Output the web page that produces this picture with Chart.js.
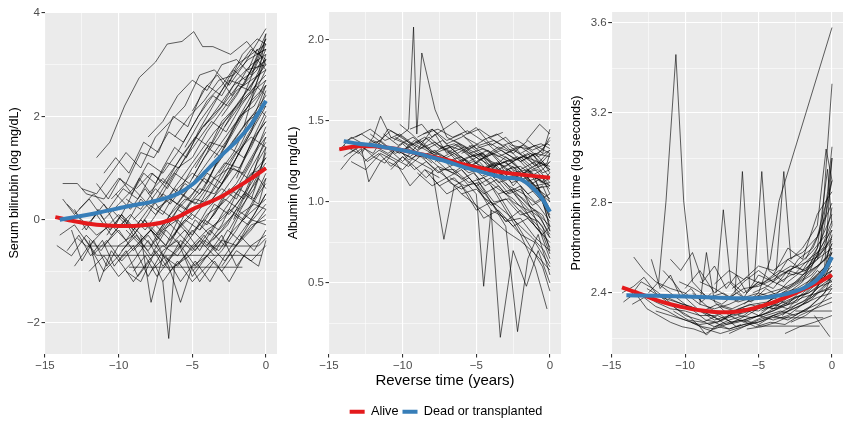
<!DOCTYPE html>
<html>
<head>
<meta charset="utf-8">
<script src="https://cdn.jsdelivr.net/npm/chart.js@4.4.1/dist/chart.umd.min.js"></script>
<style>
  html, body { margin: 0; padding: 0; background: #fff; overflow: hidden; }
  #wrap { position: relative; width: 843px; height: 421px; overflow: hidden; }
  canvas { position: absolute; top: 0; }
</style>
</head>
<body>
<div id="wrap">
  <canvas id="bili" width="283" height="421" style="left:0px;width:283px;height:421px"></canvas>
  <canvas id="alb" width="332" height="428" style="left:280px;width:332px;height:428px"></canvas>
  <canvas id="pro" width="278" height="421" style="left:565px;width:278px;height:421px"></canvas>
</div>
<script>
// axis ticks
const timeTicks = [-15, -10, -5, 0];
const timeMinor = [-12.5, -7.5, -2.5];
const biliTicks = [-2, 0, 2, 4];
const biliMinor = [-1, 1, 3];
const albTicks = [0.5, 1.0, 1.5, 2.0];
const albMinor = [0.25, 0.75, 1.25, 1.75];
const proTicks = [2.4, 2.8, 3.2, 3.6];
const proMinor = [2.2, 2.6, 3.0, 3.4];

// smoothed group means [time, value]
const biliAlive = [[-14.3,0.05],[-13,-0.03],[-12,-0.08],[-11,-0.11],[-10,-0.12],[-9,-0.12],[-8,-0.1],[-7,-0.05],[-6,0.05],[-5,0.2],[-4,0.32],[-3,0.45],[-2,0.62],[-1,0.8],[0,1.0]];
const biliDead = [[-14,0.0],[-13,0.05],[-12,0.1],[-11,0.16],[-10,0.22],[-9,0.28],[-8,0.33],[-7,0.4],[-6,0.5],[-5,0.68],[-4,0.96],[-3,1.25],[-2,1.52],[-1,1.85],[0,2.3]];
const albAlive = [[-14.3,1.325],[-13,1.345],[-12,1.345],[-11,1.335],[-10,1.32],[-9,1.3],[-8,1.28],[-7,1.26],[-6,1.235],[-5,1.215],[-4,1.195],[-3,1.18],[-2,1.17],[-1,1.16],[0,1.15]];
const albDead = [[-14,1.375],[-13,1.36],[-12,1.35],[-11,1.335],[-10,1.32],[-9,1.3],[-8,1.275],[-7,1.25],[-6,1.22],[-5,1.195],[-4,1.17],[-3,1.15],[-2,1.14],[-1.2,1.09],[-0.6,1.03],[0,0.94]];
const proAlive = [[-14.3,2.425],[-13,2.395],[-12,2.37],[-11,2.35],[-10,2.335],[-9,2.323],[-8,2.316],[-7,2.315],[-6,2.322],[-5,2.338],[-4,2.358],[-3,2.385],[-2,2.415],[-1,2.445],[0,2.48]];
const proDead = [[-14,2.39],[-12,2.388],[-10,2.385],[-8,2.38],[-6,2.377],[-5,2.378],[-4,2.385],[-3,2.398],[-2,2.42],[-1,2.46],[-0.5,2.5],[0,2.56]];

// individual patient trajectories [time, value]
const biliPatients = [
  [[-11.5,1.2],[-10.6,1.5],[-9.6,2.2],[-8.6,2.75],[-7.5,3.05],[-6.7,3.4],[-5.7,3.45],[-4.9,3.64],[-4.3,3.35],[-3.6,3.35],[-2.4,3.2],[-1.3,3.45],[-0.6,3.2],[0,3.3]],
  [[-12.5,0.6],[-11.5,0.5],[-10.5,0.9],[-9.5,1.3],[-8.5,1.0],[-7.5,1.6],[-6.5,1.9],[-5.5,2.2],[-4.5,2.8],[-3.5,2.9],[-2.5,2.6],[-1.5,3.0],[0,3.7]],
  [[-13.8,0.7],[-12.8,0.7],[-12.2,0.5],[-11,0.4],[-10,0.8],[-9,0.6],[-8,1.1],[-7,0.9],[-6,1.3],[-5,1.8],[-4,2.3],[-3,2.6],[-2,3.0],[-1,3.2],[0,3.4]],
  [[-14,-0.3],[-13,-0.1],[-12,-0.5],[-11,-0.2],[-10,0.1],[-9,-0.2],[-8,0.2],[-7,0.5],[-6,0.3],[-5,0.7],[-4,1.1],[-3,1.5],[-2,1.9],[-1,2.4],[0,3.1]],
  [[-13.5,0.3],[-12.5,0],[-11.5,-0.3],[-10.5,-0.1],[-9.5,-0.4],[-8.5,0],[-7.5,-0.3],[-6.5,0.1],[-5.5,0.4],[-4.5,0.3],[-3.5,0.8],[-2.5,1.0],[-1.5,0.9],[-0.5,1.4],[0,1.6]],
  [[-12.3,-0.36],[-11.5,-0.69],[-8,-0.69],[-4,-0.69],[-0.3,-0.69]],
  [[-9.3,-0.92],[-6,-0.92],[-3,-0.92],[-1.6,-0.92]],
  [[-12.8,-0.36],[-12.2,-0.51],[-9,-0.51],[-6,-0.51],[-3.5,-0.51],[-0.5,-0.51],[0,-0.36]],
  [[-9.5,-0.2],[-8.5,-0.5],[-7.5,-0.9],[-7,-1.2],[-6.6,-2.3],[-6.2,-0.9],[-5.2,-0.7],[-4.2,-0.4],[-3.2,-0.6],[-2.2,-0.2],[-1.2,0.1],[0,0.4]],
  [[-8.5,-0.3],[-7.8,-1.6],[-7,-0.7],[-6,-0.9],[-5,-0.5],[-4,-0.2],[-3,0.0],[-2,0.3],[-1,0.7],[0,1.2]],
  [[-7.5,-0.4],[-6.6,-0.9],[-5.8,-1.6],[-5,-0.9],[-4,-0.7],[-3,-0.4],[-2,-0.5],[-1,-0.2],[0,0.2]],
  [[-12,-0.4],[-11.3,-1.2],[-10.5,-0.6],[-9.7,-0.9],[-9,-1.2],[-8,-0.8],[-7,-0.5],[-6,-0.7],[-5,-0.3],[-4,0.1],[-3,0.3],[-2,0.6],[-1,1.1],[0,1.8]],
  [[-13.2,-0.2],[-12.5,-0.8],[-11.7,-0.4],[-10.8,-0.9],[-10,-0.5],[-9,-0.3],[-8,0.1],[-7,0.6],[-6,1.0],[-5,1.2],[-4,1.7],[-3,2.1],[-2,2.5],[-1,2.7],[0,2.9]],
  [[-10.5,0.4],[-9.5,0.7],[-8.5,1.3],[-7.6,1.2],[-6.6,1.7],[-5.6,1.5],[-4.6,2.0],[-3.6,2.4],[-2.6,2.2],[-1.6,2.6],[-0.6,2.9],[0,3.3]],
  [[-11,0.9],[-10.2,1.2],[-9.3,0.9],[-8.3,1.5],[-7.3,1.3],[-6.3,2.0],[-5.3,1.8],[-4.3,2.5],[-3.3,2.8],[-2.3,2.4],[-1.3,2.9],[0,3.0]],
  [[-9,0.0],[-8,0.3],[-7,0.1],[-6,0.6],[-5,0.9],[-4,0.7],[-3,1.3],[-2,1.8],[-1,2.3],[0,2.6]],
  [[-8,0.5],[-7,0.8],[-6,0.5],[-5,1.0],[-4,1.4],[-3,1.2],[-2,1.6],[-1,2.0],[0,2.2]],
  [[-7,-0.2],[-6,0.0],[-5,-0.3],[-4,0.2],[-3,0.5],[-2,0.9],[-1,1.4],[0,2.0]],
  [[-6,0.2],[-5,0.5],[-4,0.9],[-3,0.7],[-2,1.2],[-1,1.7],[0,2.5]],
  [[-5,0.8],[-4,1.3],[-3,1.9],[-2,2.2],[-1,2.5],[0,2.8]],
  [[-4,0.3],[-3,0.6],[-2,0.4],[-1,1.0],[0,1.5]],
  [[-3.5,1.2],[-2.5,1.6],[-1.5,2.1],[-0.5,2.4],[0,2.7]],
  [[-6.5,-0.5],[-5.5,-0.2],[-4.5,-0.6],[-3.5,-0.1],[-2.5,0.2],[-1.5,0.0],[-0.5,0.5],[0,0.7]],
  [[-12.7,0.2],[-11.7,0.5],[-10.7,0.2],[-9.7,0.6],[-8.7,0.4],[-7.7,0.9],[-6.7,0.6],[-5.7,1.1],[-4.7,1.5],[-3.7,1.9],[-2.7,1.7],[-1.7,2.2],[-0.7,2.6],[0,2.4]],
  [[-14.2,-0.5],[-13.2,-0.7],[-12.2,-0.3],[-11.2,-0.6],[-10.2,-0.2],[-9.2,0.1],[-8.2,-0.2],[-7.2,0.2],[-6.2,0.0],[-5.2,-0.3],[-4.2,0.0],[-3.2,-0.2],[-2.2,0.1],[-1.2,-0.1],[0,0.3]],
  [[-10,-0.8],[-9,-0.5],[-8,-1.1],[-7,-0.6],[-6,-0.4],[-5,-1.1],[-4,-0.7],[-3,-1.0],[-2,-0.6],[-1,-0.8],[0,-0.5]],
  [[-5.5,-0.7],[-4.5,-1.2],[-3.5,-0.8],[-2.5,-1.2],[-1.5,-0.7],[-0.5,-0.9],[0,-0.4]],
  [[-2.5,-0.2],[-1.5,0.3],[-0.5,0.9],[0,1.1]],
  [[-2,0.8],[-1,1.5],[0,2.1]],
  [[-1.5,1.8],[-0.8,2.5],[0,3.2]],
  [[-9.5,0.4],[-8.5,0.2],[-7.5,0.6],[-6.5,0.3],[-5.5,0.7],[-4.5,0.5],[-3.5,1.0],[-2.5,1.4],[-1.5,1.2],[-0.5,1.7],[0,1.9]],
  [[-8,1.6],[-7,1.9],[-6,2.4],[-5,2.7],[-4,2.5],[-3,3.0],[-2,3.1],[-1,2.8],[0,3.5]],
  [[-13,-0.9],[-12,-0.5],[-11,-1.0],[-10,-0.7],[-9,-0.3],[-8,-0.6],[-7,-0.2],[-6,0.2],[-5,0.0],[-4,0.4],[-3,0.8],[-2,1.3],[-1,1.6],[0,1.4]],
  [[-11.8,0.0],[-11,0.3],[-10.2,-0.1],[-9.4,0.3],[-8.6,0.8],[-7.8,0.5],[-7,1.0],[-6.2,1.4],[-5.4,1.2],[-4.6,1.7],[-3.8,2.1],[-3,2.5],[-2.2,2.9],[-1.4,2.7],[-0.6,3.1],[0,2.9]],
  [[-4.5,-0.2],[-3.5,0.1],[-2.5,0.6],[-1.5,0.4],[-0.5,0.8],[0,0.6]],
  [[-7.8,-1.0],[-6.8,-0.7],[-5.8,-1.2],[-4.8,-0.8],[-3.8,-1.2],[-2.8,-0.7],[-1.8,-0.3],[-0.8,-0.6],[0,-0.2]],
  [[-3,-0.9],[-2,-0.5],[-1,-0.1],[0,0.0]],
  [[-12.5,-0.2],[-11.5,0.1],[-10.5,-0.3],[-9.5,0.0],[-8.5,-0.4],[-7.5,-0.1],[-6.5,-0.4],[-5.5,0.0],[-4.5,-0.2],[-3.5,0.3],[-2.5,0.1],[-1.5,0.5],[-0.5,0.3],[0,0.8]],
  [[-11,-0.5],[-10,-0.2],[-9,-0.6],[-8,-0.3],[-7,-0.7],[-6,-0.2],[-5,0.1],[-4,-0.1],[-3,0.4],[-2,0.7],[-1,1.2],[0,1.7]],
  [[-10.5,0.2],[-9.5,-0.1],[-8.5,0.4],[-7.5,0.1],[-6.5,0.5],[-5.5,0.9],[-4.5,1.3],[-3.5,1.7],[-2.5,2.0],[-1.5,2.4],[-0.5,2.8],[0,3.6]],
  [[-9.8,-0.6],[-8.8,-0.3],[-7.8,-0.7],[-6.8,-0.2],[-5.8,-0.5],[-4.8,0.0],[-3.8,-0.3],[-2.8,0.2],[-1.8,0.6],[-0.8,0.4],[0,0.9]],
  [[-8.8,0.6],[-7.8,0.9],[-6.8,0.7],[-5.8,1.2],[-4.8,1.6],[-3.8,1.4],[-2.8,1.9],[-1.8,2.3],[-0.8,2.7],[0,3.0]],
  [[-7.5,0.2],[-6.5,0.4],[-5.5,0.2],[-4.5,0.6],[-3.5,0.5],[-2.5,0.9],[-1.5,1.5],[-0.5,2.0],[0,2.3]],
  [[-6.8,-0.8],[-5.8,-0.5],[-4.8,-0.9],[-3.8,-0.5],[-2.8,-0.8],[-1.8,-0.4],[-0.8,-0.1],[0,0.1]],
  [[-5.8,0.5],[-4.8,0.3],[-3.8,0.7],[-2.8,1.1],[-1.8,1.0],[-0.8,1.6],[0,1.9]],
  [[-4.8,1.0],[-3.8,1.5],[-2.8,1.4],[-1.8,2.0],[-0.8,2.2],[0,2.6]],
  [[-3.8,0.0],[-2.8,0.4],[-1.8,0.2],[-0.8,0.6],[0,1.3]],
  [[-13.8,0.4],[-13,0.1],[-12,0.4],[-11,0.0],[-10,0.3],[-9,0.6],[-8,0.3],[-7,0.7],[-6,1.1],[-5,1.5],[-4,1.9],[-3,2.2],[-2,2.7],[-1,3.0],[0,3.2]],
  [[-12,-1.0],[-11,-0.7],[-10,-1.1],[-9,-0.8],[-8,-0.4],[-7,-0.9],[-6,-0.6],[-5,-0.2],[-4,-0.5],[-3,-0.2],[-2,0.2],[-1,0.0],[0,0.5]],
  [[-11.5,0.7],[-10.7,0.4],[-9.9,0.8],[-9.1,0.5],[-8.3,0.9],[-7.5,0.7],[-6.7,1.1],[-5.9,1.0],[-5.1,1.4],[-4.3,1.8],[-3.5,2.0],[-2.7,2.3],[-1.9,2.6],[-1.1,2.5],[-0.3,3.0],[0,3.1]],
  [[-9,-1.0],[-8.2,-0.7],[-7.4,-1.1],[-6.6,-0.8],[-5.8,-0.4],[-5,-0.6],[-4.2,-0.3],[-3.4,-0.6],[-2.6,-0.2],[-1.8,-0.4],[-1,0.0],[0,-0.1]],
  [[-2.8,1.8],[-1.8,2.2],[-0.8,2.9],[0,3.4]],
  [[-3.2,0.9],[-2.2,1.3],[-1.2,1.9],[0,2.4]],
  [[-1.8,-0.3],[-0.8,0.1],[0,0.5]],
  [[-8.3,0.0],[-7.3,-0.3],[-6.3,0.2],[-5.3,0.6],[-4.3,0.9],[-3.3,1.1],[-2.3,1.5],[-1.3,1.9],[-0.3,2.1],[0,2.0]],
  [[-6.2,1.6],[-5.2,2.0],[-4.2,2.3],[-3.2,2.7],[-2.2,2.8],[-1.2,3.1],[0,3.3]],
  [[-10.8,-0.3],[-9.8,0.1],[-8.8,-0.2],[-7.8,-0.5],[-6.8,0.0],[-5.8,-0.3],[-4.8,-0.6],[-3.8,-0.2],[-2.8,-0.5],[-1.8,0.1],[-0.8,0.3],[0,0.2]],
  [[-13.5,-0.6],[-12.7,-0.3],[-11.9,-0.7],[-11.1,-0.4],[-10.3,-0.9],[-9.5,-0.6],[-8.7,-1.1],[-7.9,-0.8]],
  [[-5,-1.0],[-4,-0.7],[-3,-0.3],[-2,-0.9],[-1,-0.5],[0,-0.3]],
  [[-3,2.0],[-2,2.4],[-1,2.9],[0,3.6]],
  [[-4.2,1.8],[-3.2,2.2],[-2.2,2.6],[-1.2,2.8],[0,3.1]],
  [[-5.5,1.4],[-4.5,1.9],[-3.5,2.3],[-2.5,2.7],[-1.5,2.6],[-0.5,3.2],[0,3.5]],
  [[-2.2,0.0],[-1.2,0.6],[-0.4,1.3],[0,1.6]],
  [[-3.6,-0.4],[-2.6,-0.1],[-1.6,0.4],[-0.6,1.1],[0,1.4]],
  [[-6.2,-0.3],[-5.2,0.3],[-4.2,0.6],[-3.2,1.2],[-2.2,1.8],[-1.2,2.2],[0,2.9]],
  [[-7.2,0.4],[-6.2,0.9],[-5.2,0.7],[-4.2,1.2],[-3.2,1.6],[-2.2,2.1],[-1.2,2.4],[0,2.7]],
  [[-8.8,-0.5],[-7.8,-0.2],[-6.8,-0.5],[-5.8,0.1],[-4.8,0.4],[-3.8,0.3],[-2.8,0.8],[-1.8,1.3],[-0.8,1.8],[0,2.2]],
  [[-10.2,0.5],[-9.2,0.2],[-8.2,0.6],[-7.2,0.2],[-6.2,0.6],[-5.2,0.4],[-4.2,0.8],[-3.2,0.6],[-2.2,1.0],[-1.2,0.8],[0,1.2]],
  [[-11.8,-0.7],[-10.8,-0.4],[-9.8,-0.8],[-8.8,-0.5],[-7.8,-0.2],[-6.8,-0.5],[-5.8,-0.1],[-4.8,0.2],[-3.8,0.5],[-2.8,1.0],[-1.8,1.4],[-0.8,2.0],[0,2.6]],
  [[-13,0.2],[-12.2,-0.2],[-11.4,0.2],[-10.6,-0.2],[-9.8,0.1],[-9,-0.3],[-8.2,0.0],[-7.4,-0.4],[-6.6,-0.1],[-5.8,0.3],[-5,0.1]],
  [[-7,-1.2],[-6,-0.8],[-5,-1.2],[-4,-0.9],[-3,-0.6],[-2,-0.2],[-1,0.3],[0,0.8]],
  [[-9.5,-1.0],[-8.5,-1.2],[-7.5,-0.6],[-6.5,-1.0],[-5.5,-0.7],[-4.5,-0.4],[-3.5,-0.7]],
  [[-4,-0.5],[-3,-0.1],[-2,0.5],[-1,0.9],[0,1.0]],
  [[-1,0.4],[-0.5,0.8],[0,1.4]],
  [[-1.2,2.9],[-0.6,3.3],[0,3.0]],
  [[-2.6,2.6],[-1.6,3.2],[-0.6,3.5],[0,3.4]],
  [[-5,2.1],[-4,2.6],[-3,2.4],[-2,2.9],[-1,3.3],[0,3.1]]
];

const albPatients = [
  [[-10.6,1.38],[-9.6,1.45],[-9.26,2.08],[-9.04,1.42],[-8.7,1.92],[-7.8,1.57],[-7,1.4],[-6,1.35],[-5,1.3],[-4,1.25],[-3,1.22],[-2,1.28],[-1,1.2],[0,1.1]],
  [[-14.3,1.32],[-13.5,1.4],[-12.5,1.35],[-11.5,1.38],[-10.5,1.3],[-9.5,1.34],[-8.5,1.27],[-7.5,1.3],[-6.5,1.24],[-5.5,1.28],[-4.5,1.2],[-3.5,1.24],[-2.5,1.18],[-1.5,1.2],[-0.5,1.12],[0,1.15]],
  [[-14.2,1.2],[-13.5,1.28],[-12.8,1.33],[-12.3,1.125],[-11.5,1.25],[-10.5,1.32],[-9.5,1.28],[-8.5,1.35],[-7.5,1.25],[-6.5,1.3],[-5.5,1.22],[-4.5,1.27],[-3.5,1.16],[-2.5,1.22],[-1.5,1.1],[-0.5,1.0],[0,0.9]],
  [[-13.8,1.38],[-12.8,1.42],[-11.8,1.36],[-10.8,1.44],[-9.8,1.38],[-8.8,1.33],[-7.8,1.37],[-6.8,1.3],[-5.8,1.34],[-4.8,1.26],[-3.8,1.3],[-2.8,1.25],[-1.8,1.28],[-0.8,1.22],[0,1.3]],
  [[-13,1.35],[-12,1.3],[-11,1.45],[-10,1.4],[-9,1.32],[-8,1.45],[-7,1.38],[-6,1.42],[-5,1.33],[-4,1.36],[-3,1.3],[-2,1.34],[-1,1.28],[0,1.38]],
  [[-12.8,1.3],[-12,1.4],[-11.5,1.53],[-10.8,1.4],[-9.8,1.36],[-8.8,1.28],[-7.8,1.32],[-6.8,1.22],[-5.8,1.26],[-4.8,1.14],[-3.8,1.18],[-2.8,1.08],[-1.8,1.02],[-0.8,0.92],[0,0.8]],
  [[-10,1.3],[-9,1.25],[-8,1.2],[-7.2,0.77],[-6.5,1.1],[-5.5,1.15],[-4.5,1.05],[-3.5,1.1],[-2.5,1.0],[-1.5,0.95],[-0.5,0.85],[0,0.7]],
  [[-8,1.28],[-7,1.2],[-6,1.15],[-5,1.05],[-4.5,0.48],[-4,0.95],[-3,0.9],[-2,0.8],[-1,0.75],[0,0.6]],
  [[-6,1.2],[-5,1.1],[-4,0.95],[-3.37,0.165],[-2.5,0.7],[-1.6,0.48],[-0.8,0.7],[0,0.5]],
  [[-5,1.15],[-4,1.0],[-3,0.85],[-2.2,0.2],[-1.5,0.65],[-0.8,0.8],[0,0.55]],
  [[-4,1.1],[-3,0.95],[-2,0.8],[-1,0.6],[-0.2,0.34]],
  [[-7.5,1.35],[-6.5,1.3],[-5.5,1.25],[-4.5,1.3],[-3.5,1.2],[-2.5,1.25],[-1.5,1.15],[-0.5,1.2],[0,1.25]],
  [[-9,1.4],[-8,1.45],[-7,1.36],[-6,1.4],[-5,1.46],[-4,1.35],[-3,1.4],[-2,1.3],[-1,1.35],[0,1.3]],
  [[-11,1.25],[-10,1.2],[-9,1.3],[-8,1.22],[-7,1.15],[-6,1.2],[-5,1.1],[-4,1.15],[-3,1.05],[-2,1.1],[-1,1.0],[0,1.05]],
  [[-6.5,1.25],[-5.5,1.18],[-4.5,1.22],[-3.5,1.12],[-2.5,1.15],[-1.5,1.05],[-0.5,1.1],[0,1.0]],
  [[-3,1.3],[-2,1.25],[-1,1.3],[0,1.2]],
  [[-2.5,1.2],[-1.5,1.15],[-0.5,1.05],[0,0.95]],
  [[-5.5,1.35],[-4.5,1.28],[-3.5,1.34],[-2.5,1.3],[-1.5,1.38],[-0.5,1.3],[0,1.45]],
  [[-4.5,1.2],[-3.5,1.25],[-2.5,1.1],[-1.5,1.2],[-0.5,1.25],[0,1.18]],
  [[-8.5,1.2],[-7.5,1.1],[-6.5,1.15],[-5.5,1.05],[-4.5,0.9],[-3.5,0.95],[-2.5,0.85],[-1.5,0.9],[-0.5,0.8],[0,0.85]],
  [[-14,1.28],[-13.2,1.33],[-12.4,1.25],[-11.6,1.3],[-10.8,1.22],[-10,1.28],[-9.2,1.2],[-8.4,1.25],[-7.6,1.18],[-6.8,1.22],[-6,1.14],[-5.2,1.18],[-4.4,1.1],[-3.6,1.14],[-2.8,1.05],[-2,1.08],[-1.2,0.98],[-0.4,1.02],[0,0.95]],
  [[-12,1.35],[-11,1.3],[-10,1.36],[-9,1.28],[-8,1.3],[-7,1.25],[-6,1.28],[-5,1.2],[-4,1.22],[-3,1.15],[-2,1.18],[-1,1.1],[0,1.12]],
  [[-1.5,1.2],[-0.8,1.1],[0,0.9]],
  [[-2,1.1],[-1,0.9],[0,0.65]],
  [[-3.5,1.05],[-2.5,0.9],[-1.5,0.75],[-0.5,0.6],[0,0.45]],
  [[-7,1.32],[-6,1.25],[-5,1.3],[-4,1.2],[-3,1.28],[-2,1.2],[-1,1.25],[0,1.22]],
  [[-10.5,1.4],[-9.5,1.35],[-8.5,1.4],[-7.5,1.33],[-6.5,1.36],[-5.5,1.3],[-4.5,1.33],[-3.5,1.28],[-2.5,1.32],[-1.5,1.27],[-0.5,1.32],[0,1.4]],
  [[-13.5,1.25],[-12.5,1.2],[-11.5,1.3],[-10.5,1.25],[-9.5,1.1],[-8.5,1.2],[-7.5,1.15]],
  [[-1.6,1.38],[-0.7,1.48],[0,1.42]],
  [[-5,1.12],[-4,1.0],[-3,0.88],[-2,0.95],[-1,0.85],[0,0.75]],
  [[-13.2,1.4],[-12.2,1.45],[-11.2,1.38],[-10.2,1.42],[-9.2,1.35],[-8.2,1.4],[-7.2,1.32],[-6.2,1.36],[-5.2,1.28],[-4.2,1.32],[-3.2,1.24],[-2.2,1.28],[-1.2,1.2],[-0.2,1.24],[0,1.3]],
  [[-12.6,1.25],[-11.6,1.32],[-10.6,1.27],[-9.6,1.22],[-8.6,1.3],[-7.6,1.22],[-6.6,1.18],[-5.6,1.24],[-4.6,1.16],[-3.6,1.2],[-2.6,1.12],[-1.6,1.15],[-0.6,1.05],[0,1.0]],
  [[-11.3,1.42],[-10.3,1.35],[-9.3,1.4],[-8.3,1.33],[-7.3,1.38],[-6.3,1.3],[-5.3,1.35],[-4.3,1.28],[-3.3,1.32],[-2.3,1.26],[-1.3,1.3],[-0.3,1.22],[0,1.25]],
  [[-9.8,1.33],[-8.8,1.38],[-7.8,1.3],[-6.8,1.34],[-5.8,1.26],[-4.8,1.2],[-3.8,1.24],[-2.8,1.15],[-1.8,1.18],[-0.8,1.08],[0,1.02]],
  [[-8.6,1.42],[-7.6,1.45],[-6.6,1.4],[-5.6,1.44],[-4.6,1.38],[-3.6,1.42],[-2.6,1.35],[-1.6,1.33],[-0.6,1.36],[0,1.33]],
  [[-7.8,1.25],[-6.8,1.3],[-5.8,1.2],[-4.8,1.25],[-3.8,1.15],[-2.8,1.2],[-1.8,1.12],[-0.8,1.15],[0,1.08]],
  [[-6.8,1.15],[-5.8,1.1],[-4.8,1.12],[-3.8,1.0],[-2.8,1.02],[-1.8,0.92],[-0.8,0.88],[0,0.78]],
  [[-5.8,1.4],[-4.8,1.35],[-3.8,1.38],[-2.8,1.32],[-1.8,1.35],[-0.8,1.28],[0,1.32]],
  [[-4.8,1.3],[-3.8,1.22],[-2.8,1.26],[-1.8,1.18],[-0.8,1.2],[0,1.12]],
  [[-3.8,1.18],[-2.8,1.1],[-1.8,1.05],[-0.8,0.98],[0,0.88]],
  [[-2.8,1.35],[-1.8,1.28],[-0.8,1.25],[0,1.2]],
  [[-14,1.35],[-13,1.3],[-12,1.38],[-11,1.33],[-10,1.25],[-9,1.35],[-8,1.3],[-7,1.35],[-6,1.32],[-5,1.25],[-4,1.3],[-3,1.2],[-2,1.22],[-1,1.15],[0,1.1]],
  [[-10.8,1.2],[-10,1.28],[-9.2,1.22],[-8.4,1.15],[-7.6,1.22],[-6.8,1.12],[-6,1.08],[-5.2,1.12],[-4.4,1.02],[-3.6,0.98],[-2.8,0.92],[-2,0.85],[-1.2,0.78],[-0.4,0.7],[0,0.62]],
  [[-6,1.3],[-5,1.35],[-4,1.3],[-3,1.35],[-2,1.25],[-1,1.3],[0,1.28]],
  [[-1.2,1.3],[-0.6,1.22],[0,1.15]],
  [[-9.5,1.45],[-8.7,1.48],[-8,1.4],[-7.2,1.45],[-6.4,1.5],[-5.6,1.42],[-4.8,1.45],[-4,1.4],[-3.2,1.43]],
  [[-8,1.15],[-7,1.05],[-6,1.1],[-5,0.95],[-4,1.0],[-3,0.88],[-2,0.9],[-1,0.78],[0,0.7]],
  [[-3.2,1.25],[-2.2,1.2],[-1.2,1.1],[-0.4,1.0],[0,0.92]],
  [[-4.5,1.15],[-3.5,1.08],[-2.5,1.02],[-1.5,0.92],[-0.5,0.82],[0,0.72]],
  [[-3,1.12],[-2,1.0],[-1,0.85],[-0.4,0.78],[0,0.68]],
  [[-2,1.25],[-1,1.15],[-0.5,1.0],[0,0.85]],
  [[-5.5,1.3],[-4.5,1.25],[-3.5,1.2],[-2.5,1.18],[-1.5,1.1],[-0.5,1.15],[0,1.05]],
  [[-6.5,1.38],[-5.5,1.33],[-4.5,1.38],[-3.5,1.3],[-2.5,1.25],[-1.5,1.3],[-0.5,1.18],[0,1.2]],
  [[-7.5,1.2],[-6.5,1.2],[-5.5,1.12],[-4.5,1.15],[-3.5,1.05],[-2.5,1.08],[-1.5,0.98],[-0.5,0.92],[0,0.82]],
  [[-9,1.18],[-8,1.1],[-7,1.15],[-6,1.05],[-5,1.08],[-4,0.98],[-3,1.02],[-2,0.92],[-1,0.95],[0,0.85]],
  [[-12.2,1.42],[-11.2,1.35],[-10.2,1.3],[-9.2,1.38],[-8.2,1.32],[-7.2,1.28],[-6.2,1.22],[-5.2,1.25],[-4.2,1.2],[-3.2,1.14],[-2.2,1.16],[-1.2,1.08],[0,1.1]],
  [[-13.6,1.3],[-12.8,1.35],[-12,1.28],[-11.2,1.24],[-10.4,1.34],[-9.6,1.26],[-8.8,1.3],[-8,1.24]],
  [[-10.2,1.48],[-9.4,1.42],[-8.6,1.35],[-7.8,1.42],[-7,1.3],[-6.2,1.35],[-5.4,1.28],[-4.6,1.3],[-3.8,1.22],[-3,1.25],[-2.2,1.16],[-1.4,1.2],[-0.6,1.12],[0,1.18]],
  [[-1.8,1.3],[-1,1.22],[-0.4,1.28],[0,1.32]],
  [[-4.2,1.4],[-3.2,1.35],[-2.2,1.38],[-1.2,1.32],[-0.2,1.36],[0,1.35]],
  [[-2.4,1.05],[-1.4,0.95],[-0.6,0.9],[0,0.78]],
  [[-0.8,1.08],[-0.3,0.95],[0,0.82]],
  [[-6,1.05],[-5,0.98],[-4,0.9],[-3,0.82],[-2,0.76],[-1,0.68],[0,0.58]]
];

const proPatients = [
  [[-12.5,2.4],[-11.8,2.45],[-11.3,2.81],[-10.63,3.46],[-10.1,2.81],[-9.5,2.45],[-8.5,2.38],[-7.5,2.35],[-6.5,2.4],[-5.5,2.36],[-4.5,2.42],[-3.5,2.38]],
  [[-6,2.35],[-5,2.4],[-4.2,2.55],[-3.6,2.81],[0,3.58]],
  [[-1.5,2.5],[-0.8,2.6],[0,3.33]],
  [[-6.6,2.4],[-6.1,2.94],[-5.6,2.42],[-4.6,2.45],[-3.6,2.5],[-2.6,2.48],[-1.6,2.55],[-0.6,2.6],[0,2.7]],
  [[-5.3,2.45],[-4.78,2.94],[-4.3,2.5],[-3.3,2.45],[-2.3,2.55],[-1.3,2.6],[0,2.8]],
  [[-3.8,2.5],[-3.28,2.94],[-2.8,2.55],[-2,2.6],[-1,2.7],[-0.4,3.04],[0,2.9]],
  [[-7.9,2.4],[-7.4,2.77],[-6.9,2.45],[-6,2.4],[-5,2.45],[-4,2.42],[-3,2.5],[-2,2.48],[-1,2.55],[0,2.6]],
  [[-9,2.35],[-8.55,2.58],[-8,2.36],[-7,2.3],[-6,2.33],[-5,2.3],[-4,2.35],[-3,2.33],[-2,2.4],[-1,2.45],[0,2.5]],
  [[-14.3,2.4],[-13.5,2.43],[-12.8,2.47],[-12,2.4],[-11,2.35],[-10,2.3],[-9,2.28],[-8,2.25],[-7,2.28],[-6,2.3],[-5,2.35],[-4,2.33],[-3,2.38],[-2,2.42],[-1,2.5],[0,2.45]],
  [[-13.8,2.38],[-13,2.45],[-12.2,2.42],[-11.4,2.38],[-10.6,2.33],[-9.8,2.3],[-9,2.25],[-8.55,2.213],[-8,2.25],[-7,2.27],[-6,2.28],[-5,2.3],[-4,2.32],[-3,2.35],[-2,2.38],[-1,2.4],[0,2.42]],
  [[-5.05,2.253],[-2.5,2.253],[-0.84,2.253]],
  [[-4,2.29],[-0.6,2.29]],
  [[-2.5,2.32],[0,2.32]],
  [[-13.5,2.56],[-12.8,2.5],[-12,2.45],[-11,2.42],[-10,2.4],[-9,2.35],[-8,2.33],[-7,2.35],[-6,2.38],[-5,2.4],[-4,2.38],[-3,2.45],[-2,2.5],[-1,2.55],[0,2.65]],
  [[-11.5,2.5],[-10.8,2.45],[-10,2.38],[-9,2.32],[-8,2.28],[-7,2.3],[-6,2.27],[-5,2.3],[-4,2.28],[-3,2.3],[-2,2.35],[-1,2.38],[0,2.4]],
  [[-10,2.42],[-9,2.5],[-8,2.4],[-7,2.45],[-6,2.38],[-5,2.48],[-4,2.45],[-3,2.55],[-2,2.5],[-1,2.6],[0,2.75]],
  [[-7,2.38],[-6,2.45],[-5,2.5],[-4,2.45],[-3,2.42],[-2,2.48],[-1,2.52],[0,2.58]],
  [[-6,2.28],[-5,2.26],[-4,2.3],[-3,2.28],[-2,2.32],[-1,2.35],[0,2.38]],
  [[-5,2.33],[-4,2.38],[-3,2.35],[-2,2.42],[-1,2.48],[0,2.55]],
  [[-3,2.4],[-2,2.45],[-1,2.6],[-0.3,2.95],[0,2.7]],
  [[-2,2.35],[-1,2.42],[-0.5,2.52],[0,3.0]],
  [[-1.2,2.3],[-0.15,2.206]],
  [[-4,2.48],[-3,2.6],[-2,2.55],[-1,2.75],[0,2.85]],
  [[-14.2,2.36],[-13.4,2.4],[-12.6,2.33],[-11.8,2.3],[-11,2.27],[-10.2,2.25],[-9.4,2.24],[-8.6,2.22],[-7.8,2.25],[-7,2.24],[-6.2,2.26]],
  [[-11,2.55],[-10.3,2.5],[-9.5,2.58],[-8.8,2.45],[-8,2.52],[-7.2,2.42],[-6.5,2.48],[-5.8,2.4],[-5,2.45]],
  [[-9.5,2.4],[-8.5,2.34],[-7.5,2.3],[-6.5,2.25],[-5.5,2.27],[-4.5,2.3],[-3.5,2.32],[-2.5,2.3],[-1.5,2.34],[-0.5,2.4],[0,2.48]],
  [[-12.3,2.55],[-11.7,2.42],[-11,2.48],[-10.3,2.38],[-9.6,2.42],[-8.9,2.36],[-8.2,2.4]],
  [[-13,2.4],[-12,2.36],[-11,2.33],[-10,2.32],[-9,2.3],[-8,2.3],[-7,2.32],[-6,2.33],[-5,2.32],[-4,2.36],[-3,2.38],[-2,2.42],[-1,2.45],[0,2.52]],
  [[-12.6,2.42],[-11.6,2.38],[-10.6,2.36],[-9.6,2.34],[-8.6,2.31],[-7.6,2.28],[-6.6,2.3],[-5.6,2.32],[-4.6,2.34],[-3.6,2.36],[-2.6,2.4],[-1.6,2.44],[-0.6,2.5],[0,2.58]],
  [[-11.2,2.38],[-10.2,2.35],[-9.2,2.33],[-8.2,2.3],[-7.2,2.26],[-6.2,2.28],[-5.2,2.25],[-4.2,2.27],[-3.2,2.26],[-2.2,2.3],[-1.2,2.33],[0,2.36]],
  [[-10.4,2.45],[-9.4,2.42],[-8.4,2.38],[-7.4,2.4],[-6.4,2.36],[-5.4,2.38],[-4.4,2.4],[-3.4,2.42],[-2.4,2.45],[-1.4,2.5],[-0.4,2.55],[0,2.62]],
  [[-9.6,2.27],[-8.6,2.24],[-7.6,2.22],[-6.6,2.24],[-5.6,2.26],[-4.6,2.28],[-3.6,2.3],[-2.6,2.33],[-1.6,2.36],[-0.6,2.42],[0,2.46]],
  [[-8.8,2.32],[-7.8,2.35],[-6.8,2.33],[-5.8,2.36],[-4.8,2.38],[-3.8,2.4],[-2.8,2.43],[-1.8,2.47],[-0.8,2.53],[0,2.68]],
  [[-7.6,2.34],[-6.6,2.32],[-5.6,2.35],[-4.6,2.33],[-3.6,2.35],[-2.6,2.38],[-1.6,2.4],[-0.6,2.45],[0,2.5]],
  [[-6.4,2.3],[-5.4,2.29],[-4.4,2.31],[-3.4,2.34],[-2.4,2.36],[-1.4,2.42],[-0.4,2.48],[0,2.55]],
  [[-5.4,2.4],[-4.4,2.43],[-3.4,2.48],[-2.4,2.52],[-1.4,2.58],[-0.4,2.66],[0,2.78]],
  [[-4.4,2.36],[-3.4,2.4],[-2.4,2.42],[-1.4,2.46],[-0.4,2.52],[0,2.6]],
  [[-3.4,2.3],[-2.4,2.35],[-1.4,2.38],[-0.4,2.44],[0,2.48]],
  [[-2.4,2.45],[-1.4,2.52],[-0.6,2.62],[0,2.72]],
  [[-13.6,2.35],[-12.8,2.38],[-12,2.34],[-11.2,2.32],[-10.4,2.29],[-9.6,2.27],[-8.8,2.25],[-8,2.24],[-7.2,2.26],[-6.4,2.27],[-5.6,2.29],[-4.8,2.3],[-4,2.33],[-3.2,2.35],[-2.4,2.38],[-1.6,2.4],[-0.8,2.43],[0,2.45]],
  [[-11.8,2.44],[-11,2.4],[-10.2,2.36],[-9.4,2.32],[-8.6,2.28],[-7.8,2.27],[-7,2.3],[-6.2,2.31]],
  [[-8,2.44],[-7,2.5],[-6,2.46],[-5,2.52],[-4,2.5],[-3,2.55],[-2,2.58],[-1,2.65],[0,2.9]],
  [[-1.5,2.38],[-0.8,2.45],[0,2.58]],
  [[-1,2.55],[-0.5,2.7],[0,3.0]],
  [[-4.8,2.32],[-3.8,2.35],[-2.8,2.4],[-1.8,2.43],[-0.8,2.48],[0,2.56]],
  [[-3.8,2.44],[-2.8,2.48],[-1.8,2.5],[-0.8,2.6],[0,2.68]],
  [[-2.8,2.27],[-1.8,2.3],[-0.8,2.35],[0,2.42]],
  [[-5.8,2.24],[-4.8,2.25],[-3.8,2.27],[-2.8,2.3],[-1.8,2.32],[-0.8,2.38],[0,2.44]],
  [[-7,2.22],[-6,2.25],[-5,2.28],[-4,2.3],[-3,2.33],[-2,2.36],[-1,2.42],[0,2.47]],
  [[-8.4,2.26],[-7.4,2.28],[-6.4,2.33],[-5.4,2.35],[-4.4,2.36],[-3.4,2.4],[-2.4,2.44],[-1.4,2.48],[-0.4,2.56],[0,2.62]],
  [[-10.8,2.32],[-9.8,2.28],[-8.8,2.27],[-7.8,2.3],[-6.8,2.27],[-5.8,2.3],[-4.8,2.34],[-3.8,2.33],[-2.8,2.37],[-1.8,2.4],[-0.8,2.47],[0,2.5]],
  [[-12,2.32],[-11,2.3],[-10,2.28],[-9,2.26],[-8,2.27],[-7,2.24],[-6,2.26],[-5,2.27],[-4,2.3],[-3,2.32],[-2,2.35],[-1,2.4],[0,2.43]],
  [[-9,2.45],[-8,2.42],[-7,2.38],[-6,2.42],[-5,2.43],[-4,2.46],[-3,2.5],[-2,2.53],[-1,2.56],[0,2.63]],
  [[-1.8,2.55],[-1,2.65],[-0.4,2.75],[0,2.9]],
  [[-0.8,2.62],[-0.3,2.85],[0,3.05]],
  [[-2.2,2.4],[-1.2,2.45],[-0.5,2.5],[0,2.66]],
  [[-6.8,2.42],[-5.8,2.47],[-4.8,2.44],[-3.8,2.48],[-2.8,2.52],[-1.8,2.5],[-0.8,2.58],[0,2.64]],
  [[-3.2,2.22],[-2.2,2.25],[-1.2,2.27],[0,2.3]]
];

const FONT = '"Liberation Sans", Arial, Helvetica, sans-serif';
const RED = '#E41A1C';
const BLUE = '#377EB8';

const panelBg = {
    id: 'panelBg',
    beforeDraw(chart) {
        const { ctx, chartArea: a } = chart;
        ctx.save();
        ctx.fillStyle = '#EBEBEB';
        ctx.fillRect(a.left, a.top, a.right - a.left, a.bottom - a.top);
        ctx.restore();
    }
};

function minusFmt(v) {
    return v < 0 ? '\u2212' + Math.abs(v) : String(v);
}

function gridAxis(min, max, major, minor, fmt, fitSize, extra) {
    const all = major.concat(minor).sort((a, b) => a - b);
    const isMajor = c => c.tick && major.includes(c.tick.value);
    return Object.assign({
        type: 'linear',
        min: min,
        max: max,
        afterBuildTicks: s => { s.ticks = all.map(v => ({ value: v })); },
        afterFit: s => {
            if (s.isHorizontal()) s.height = fitSize; else s.width = fitSize;
        },
        ticks: {
            autoSkip: false,
            maxRotation: 0,
            padding: 1.5,
            color: '#4D4D4D',
            font: { family: FONT, size: 11.5 },
            callback: v => major.includes(v) ? fmt(v) : ''
        },
        grid: {
            color: '#FFFFFF',
            lineWidth: c => isMajor(c) ? 1.1 : 0.55,
            tickColor: c => isMajor(c) ? '#333333' : 'rgba(0,0,0,0)',
            tickLength: 3.5
        },
        border: { display: false }
    }, extra || {});
}

function yTitle(text, pad) {
    return {
        display: true,
        text: text,
        color: '#000000',
        font: { family: FONT, size: 12.6 },
        padding: { top: pad, bottom: 0 }
    };
}

function patientSets(paths) {
    return paths.map(p => ({
        label: '',
        data: p.map(([x, y]) => ({ x: x, y: y })),
        showLine: true,
        borderColor: 'rgba(0,0,0,0.78)',
        borderWidth: 0.8,
        pointRadius: 0,
        tension: 0,
        clip: 0
    }));
}

function meanSet(pts, label, color) {
    return {
        label: label,
        data: pts.map(([x, y]) => ({ x: x, y: y })),
        showLine: true,
        borderColor: color,
        backgroundColor: color,
        borderWidth: 4,
        pointRadius: 0,
        cubicInterpolationMode: 'monotone',
        clip: 0
    };
}

function baseOptions(padding, scales, legend) {
    return {
        responsive: false,
        animation: false,
        devicePixelRatio: 1,
        events: [],
        layout: { padding: padding },
        plugins: {
            legend: legend || { display: false },
            tooltip: { enabled: false }
        },
        scales: scales
    };
}

// panel 1: bilirubin
new Chart(document.getElementById('bili'), {
    type: 'scatter',
    data: {
        datasets: [meanSet(biliDead, 'Dead or transplanted', BLUE), meanSet(biliAlive, 'Alive', RED)]
            .concat(patientSets(biliPatients))
    },
    options: baseOptions({ top: 12, right: 6, bottom: 47, left: 0 }, {
        x: gridAxis(-15, 0.75, timeTicks, timeMinor, minusFmt, 20),
        y: gridAxis(-2.6, 4.02, biliTicks, biliMinor, minusFmt, 45,
            { title: yTitle('Serum bilirubin (log mg/dL)', 6.5) })
    }),
    plugins: [panelBg]
});

// panel 2: albumin, carries the shared x title and legend
new Chart(document.getElementById('alb'), {
    type: 'scatter',
    data: {
        datasets: [meanSet(albDead, 'Dead or transplanted', BLUE), meanSet(albAlive, 'Alive', RED)]
            .concat(patientSets(albPatients))
    },
    options: baseOptions({ top: 12, right: 0, bottom: 0, left: 0 }, {
        x: gridAxis(-15, 0.75, timeTicks, timeMinor, minusFmt, 47.3, {
            title: {
                display: true,
                text: 'Reverse time (years)',
                color: '#000000',
                font: { family: FONT, size: 15 },
                padding: { top: 0, bottom: 11.5 }
            }
        }),
        y: gridAxis(0.062, 2.173, albTicks, albMinor, v => v.toFixed(1), 49,
            { title: yTitle('Albumin (log mg/dL)', 6) }),
        yRight: {
            type: 'linear',
            position: 'right',
            display: true,
            grid: { display: false },
            ticks: { display: false },
            border: { display: false },
            afterFit: s => { s.width = 51; }
        }
    }, {
        display: true,
        position: 'bottom',
        labels: {
            color: '#000000',
            font: { family: FONT, size: 12.7 },
            boxWidth: 15,
            boxHeight: 4,
            padding: 4,
            generateLabels: chart => Chart.defaults.plugins.legend.labels.generateLabels(chart)
                .filter(l => l.datasetIndex < 2)
                .map(l => Object.assign(l, { lineWidth: 0 })),
            sort: (a, b) => b.datasetIndex - a.datasetIndex
        }
    }),
    plugins: [panelBg]
});

// panel 3: prothrombin time
new Chart(document.getElementById('pro'), {
    type: 'scatter',
    data: {
        datasets: [meanSet(proDead, 'Dead or transplanted', BLUE), meanSet(proAlive, 'Alive', RED)]
            .concat(patientSets(proPatients))
    },
    options: baseOptions({ top: 12, right: 0, bottom: 47, left: 0 }, {
        x: gridAxis(-15, 0.75, timeTicks, timeMinor, minusFmt, 20),
        y: gridAxis(2.129, 3.649, proTicks, proMinor, v => v.toFixed(1), 46.7,
            { title: yTitle('Prothrombin time (log seconds)', 4.2) })
    }),
    plugins: [panelBg]
});
</script>
</body>
</html>
